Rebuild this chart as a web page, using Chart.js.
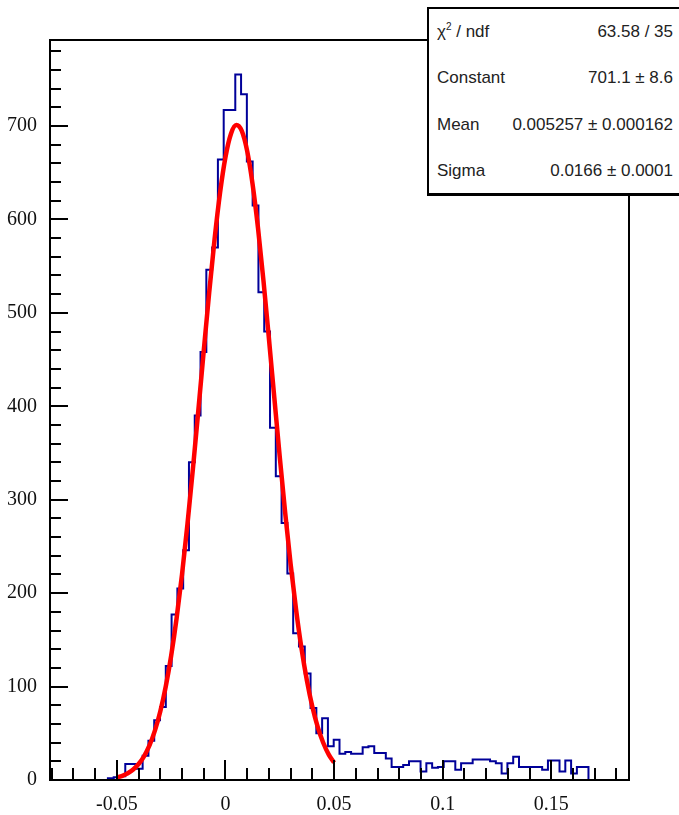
<!DOCTYPE html>
<html>
<head>
<meta charset="UTF-8">
<title>Gaussian fit</title>
<script src="https://cdn.jsdelivr.net/npm/chart.js"></script>
<style>
  html, body { margin: 0; padding: 0; background: #fff; }
  #wrap { position: relative; width: 679px; height: 815px; overflow: hidden; }
  #wrap canvas { position: absolute; left: 0; top: 0; }
  .stats {
    position: absolute; left: 427px; top: 7px; width: 270px; height: 184px;
    border: 2px solid #000; border-bottom-width: 3px; background: #fff;
  }
  .stats span {
    position: absolute; font-family: 'Liberation Sans', Arial, sans-serif;
    font-size: 17px; color: #222; line-height: 20px; white-space: nowrap;
  }
  .stats .lab { left: 8px; }
  .stats .val { right: 26px; }
  sup { font-size: 10px; line-height: 0; }
</style>
</head>
<body>
<div id="wrap">
  <canvas id="hist"></canvas>
  <div class="stats" id="stats"></div>
</div>
<script>
// histogram range and bin contents
const X_MIN = -0.0808;
const X_MAX = 0.1858;
const N_BINS = 100;
const BIN_COUNTS = [
  0, 0, 0, 0, 0, 0, 0, 0, 0, 0,
  2, 3, 4, 17, 17, 12, 26, 42, 64, 78,
  122, 177, 205, 246, 340, 390, 458, 546, 570, 664,
  717, 717, 755, 734, 662, 615, 522, 480, 377, 325,
  275, 221, 157, 143, 114, 77, 50, 66, 36, 43,
  28, 30, 28, 28, 35, 36, 29, 29, 23, 14,
  14, 16, 20, 20, 9, 18, 13, 14, 20, 20,
  11, 18, 18, 22, 22, 22, 20, 18, 7, 18,
  25, 14, 14, 14, 14, 11, 21, 21, 9, 21,
  7, 14, 14, 0, 0, 0, 0, 0, 0, 0
];

// fitted gaussian, sampled over the fit range
const FIT_X = [
  -0.05, -0.0475, -0.045, -0.0425, -0.04, -0.0375, -0.035, -0.0325, -0.03, -0.0275,
  -0.025, -0.0225, -0.02, -0.0175, -0.015, -0.0125, -0.01, -0.0075, -0.005, -0.0025,
  0, 0.0025, 0.005, 0.0075, 0.01, 0.0125, 0.015, 0.0175, 0.02, 0.0225,
  0.025, 0.0275, 0.03, 0.0325, 0.035, 0.0375, 0.04, 0.0425, 0.045, 0.0475, 0.05
];
const FIT_Y = [
  2.75, 4.49, 7.17, 11.2, 17.1, 25.4, 37.0, 52.8, 73.5, 100.1,
  133.2, 173.2, 220.3, 273.9, 333.0, 395.6, 459.6, 521.8, 579.3, 628.6,
  666.8, 691.5, 701.0, 694.7, 673.1, 637.4, 590.2, 534.2, 472.6, 408.8,
  345.6, 285.7, 230.9, 182.4, 140.8, 106.3, 78.4, 56.6, 39.9, 27.5, 18.6
];

const X_TICKS = [-0.05, 0, 0.05, 0.1, 0.15];
const Y_TICKS = [0, 100, 200, 300, 400, 500, 600, 700];
const Y_MAX = 792;

const STAT_LABELS = ['χ<sup>2</sup> / ndf', 'Constant', 'Mean', 'Sigma'];
const STAT_VALUES = ['63.58 / 35', '701.1 ± 8.6', '0.005257 ± 0.000162', '0.0166 ± 0.0001'];

// stats box
const statsEl = document.getElementById('stats');
STAT_LABELS.forEach((lab, i) => {
  const top = 13 + i * 46.3;
  statsEl.insertAdjacentHTML('beforeend',
    `<span class="lab" style="top:${top}px">${lab}</span><span class="val" style="top:${top}px">${STAT_VALUES[i]}</span>`);
});

const binW = (X_MAX - X_MIN) / N_BINS;
const histPoints = BIN_COUNTS.map((c, i) => ({ x: X_MIN + i * binW, y: c }));
histPoints.push({ x: X_MAX, y: BIN_COUNTS[N_BINS - 1] });
const fitPoints = FIT_X.map((x, i) => ({ x: x, y: FIT_Y[i] }));

// ROOT style frame with inward ticks
const frameTicks = {
  id: 'frameTicks',
  afterDatasetsDraw(chart) {
    const { ctx, chartArea: a, scales } = chart;
    const xs = scales.x, ys = scales.y;
    ctx.save();
    ctx.strokeStyle = '#000';
    ctx.lineWidth = 2;
    ctx.beginPath();
    for (let v = -0.08; v < 0.186; v += 0.01) {
      const px = Math.round(xs.getPixelForValue(v));
      const major = X_TICKS.some(t => Math.abs(t - v) < 1e-6);
      ctx.moveTo(px, a.bottom);
      ctx.lineTo(px, a.bottom - (major ? 20 : 12));
    }
    for (let v = 0; v <= 780; v += 20) {
      const py = Math.round(ys.getPixelForValue(v));
      const major = v % 100 === 0;
      ctx.moveTo(a.left, py);
      ctx.lineTo(a.left + (major ? 18 : 11), py);
    }
    ctx.stroke();
    ctx.strokeRect(a.left, a.top, a.right - a.left, a.bottom - a.top);
    ctx.restore();
  }
};

new Chart(document.getElementById('hist'), {
  type: 'line',
  data: {
    datasets: [
      {
        label: 'fit',
        data: fitPoints,
        borderColor: '#ff0000',
        borderWidth: 4.5,
        pointRadius: 0,
        cubicInterpolationMode: 'monotone',
        fill: false,
        order: 0
      },
      {
        label: 'hist',
        data: histPoints,
        borderColor: '#000099',
        borderWidth: 2,
        pointRadius: 0,
        stepped: 'before',
        fill: false,
        order: 1
      }
    ]
  },
  plugins: [frameTicks],
  options: {
    responsive: true,
    maintainAspectRatio: false,
    animation: false,
    layout: { padding: { left: 0, right: 50, top: 40, bottom: 0 } },
    plugins: { legend: { display: false }, tooltip: { enabled: false } },
    scales: {
      x: {
        type: 'linear',
        min: X_MIN,
        max: X_MAX,
        grid: { display: false },
        border: { display: false },
        afterFit(s) { s.height = 35; },
        afterBuildTicks(s) { s.ticks = X_TICKS.map(v => ({ value: v })); },
        ticks: {
          autoSkip: false, maxRotation: 0, padding: 5, color: '#111',
          font: { family: 'Liberation Serif', size: 20 },
          callback: v => String(v)
        }
      },
      y: {
        min: 0,
        max: Y_MAX,
        grid: { display: false },
        border: { display: false },
        afterFit(s) { s.width = 50; },
        afterBuildTicks(s) { s.ticks = Y_TICKS.map(v => ({ value: v })); },
        ticks: {
          padding: 5, color: '#111',
          font: { family: 'Liberation Serif', size: 20 },
          callback: v => String(v)
        }
      }
    }
  }
});
</script>
</body>
</html>
